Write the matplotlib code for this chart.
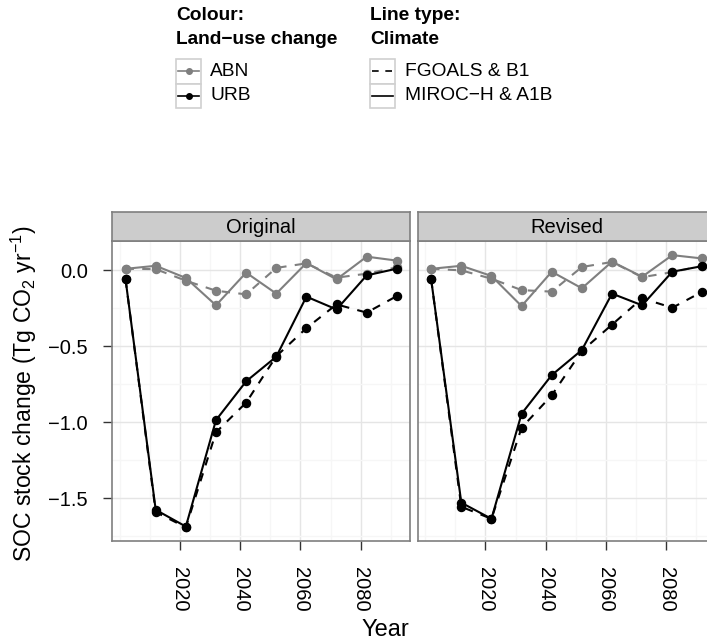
import numpy as np
import matplotlib
matplotlib.use("Agg")
import matplotlib.pyplot as plt
from matplotlib.lines import Line2D
from matplotlib.patches import Rectangle

plt.rcParams["font.family"] = ["Liberation Sans", "DejaVu Sans"]
plt.rcParams["mathtext.fontset"] = "custom"
plt.rcParams["mathtext.rm"] = "Liberation Sans"
plt.rcParams["mathtext.it"] = "Liberation Sans:italic"

# data
years = [2002, 2012, 2022, 2032, 2042, 2052, 2062, 2072, 2082, 2092]
panels = ["Original", "Revised"]
abn_fgoals = {"Original": [0.01, 0.008, -0.068, -0.134, -0.158, 0.016, 0.046, -0.048, -0.022, 0.02],
              "Revised":  [0.01, 0.0, -0.055, -0.13, -0.14, 0.022, 0.055, -0.045, -0.012, 0.03]}
abn_miroc = {"Original": [0.01, 0.03, -0.05, -0.23, -0.015, -0.153, 0.048, -0.059, 0.09, 0.064],
             "Revised":  [0.01, 0.03, -0.037, -0.235, -0.009, -0.118, 0.057, -0.042, 0.10, 0.078]}
urb_fgoals = {"Original": [-0.06, -1.59, -1.69, -1.065, -0.87, -0.565, -0.38, -0.224, -0.278, -0.169],
              "Revised":  [-0.06, -1.555, -1.634, -1.035, -0.822, -0.53, -0.357, -0.184, -0.246, -0.14]}
urb_miroc = {"Original": [-0.06, -1.575, -1.685, -0.985, -0.73, -0.568, -0.173, -0.257, -0.033, 0.011],
             "Revised":  [-0.06, -1.528, -1.634, -0.943, -0.689, -0.524, -0.153, -0.23, -0.009, 0.028]}
x_ticks = [2020, 2040, 2060, 2080]
x_labels = ["2020", "2040", "2060", "2080"]
y_ticks = [0.0, -0.5, -1.0, -1.5]
y_labels = ["0.0", "\u22120.5", "\u22121.0", "\u22121.5"]
lu_names = ["ABN", "URB"]
clim_names = ["FGOALS & B1", "MIROC\u2212H & A1B"]

W, H = 707, 643
GREY = "#7F7F7F"
fig = plt.figure(figsize=(W / 100, H / 100), dpi=100)

def fx(x): return x / W
def fy(y): return 1 - y / H

lefts = [112, 417.6]
pw = 298.4
top, bot, strip_top = 241, 541, 212
FS = 14.5

series = [(abn_fgoals, GREY, (4, 4)), (abn_miroc, GREY, None),
          (urb_fgoals, "black", (4, 4)), (urb_miroc, "black", None)]

for i, name in enumerate(panels):
    ax = fig.add_axes([fx(lefts[i]), fy(bot), pw / W, (bot - top) / H])
    for d, col, dash in series:
        ln, = ax.plot(years, d[name], color=col, lw=1.5, marker="o", ms=5.8,
                      zorder=3)
        if dash:
            ln.set_dashes(dash)
    ax.set_xlim(1997.5, 2096.5)
    ax.set_ylim(-1.78, 0.193)
    ax.set_xticks(x_ticks)
    ax.set_xticklabels(x_labels, rotation=270)
    ax.set_xticks([2000, 2010, 2030, 2050, 2070, 2090], minor=True)
    ax.set_yticks(y_ticks)
    ax.set_yticks([-1.75, -1.25, -0.75, -0.25], minor=True)
    if i == 0:
        ax.set_yticklabels(y_labels)
    else:
        ax.set_yticklabels([])
        ax.tick_params(axis="y", which="both", length=0)
    ax.grid(True, which="major", color="#E5E5E5", lw=1.0, zorder=0)
    ax.grid(True, which="minor", color="#F6F6F6", lw=1.0, zorder=0)
    ax.tick_params(axis="both", which="major", labelsize=FS, colors="black")
    ax.tick_params(axis="x", which="major", length=6.5, width=1, color="#333333", pad=12)
    if i == 0:
        ax.tick_params(axis="y", which="major", length=6.5, width=1, color="#333333", pad=10.8)
    ax.tick_params(which="minor", length=0)
    for s in ax.spines.values():
        s.set_color(GREY)
        s.set_linewidth(1.2)
    # facet strip
    sx = fig.add_axes([fx(lefts[i]), fy(top), pw / W, (top - strip_top) / H])
    sx.set_facecolor("#CCCCCC")
    sx.set_xticks([]); sx.set_yticks([])
    for s in sx.spines.values():
        s.set_color(GREY)
        s.set_linewidth(1.2)
    sx.text(0.5, 0.48, name, ha="center", va="center", fontsize=FS,
            transform=sx.transAxes)

fig.text(fx(24), fy(394), "SOC stock change (Tg CO$_2$ yr$^{-1}$)", rotation=90,
         ha="center", va="center", fontsize=16.6)
fig.text(fx(385), fy(630), "Year", ha="center", va="center", fontsize=17)

# legends drawn ggplot-style
def key_box(x, y):
    fig.add_artist(Rectangle((fx(x), fy(y + 24.5)), 25 / W, 24.5 / H,
                             transform=fig.transFigure, facecolor="white",
                             edgecolor="#D0D0D0", lw=1.2))

fig.text(fx(176), fy(16), "Colour:", fontsize=13.8, fontweight="bold", va="center")
fig.text(fx(176), fy(40), "Land\u2212use change", fontsize=13.8, fontweight="bold", va="center")
for k, (lab, col) in enumerate(zip(lu_names, [GREY, "black"])):
    yy = 59 + 24.5 * k
    key_box(176, yy)
    fig.add_artist(Line2D([fx(178), fx(199)], [fy(yy + 12.2)] * 2, color=col, lw=1.2,
                          transform=fig.transFigure))
    fig.add_artist(Line2D([fx(188.5)], [fy(yy + 12.2)], color=col, marker="o", ms=4,
                          transform=fig.transFigure))
    fig.text(fx(210), fy(yy + 12.2), lab, fontsize=13.8, va="center")

fig.text(fx(370), fy(16), "Line type:", fontsize=13.8, fontweight="bold", va="center")
fig.text(fx(370), fy(40), "Climate", fontsize=13.8, fontweight="bold", va="center")
for k, lab in enumerate(clim_names):
    yy = 59 + 24.5 * k
    key_box(370, yy)
    ln = Line2D([fx(372), fx(393)], [fy(yy + 12.2)] * 2, color="black", lw=1.2,
                transform=fig.transFigure)
    if k == 0:
        ln.set_dashes((4, 4))
    fig.add_artist(ln)
    fig.text(fx(405), fy(yy + 12.2), lab, fontsize=13.8, va="center")

fig.savefig("out.png", dpi=100)
